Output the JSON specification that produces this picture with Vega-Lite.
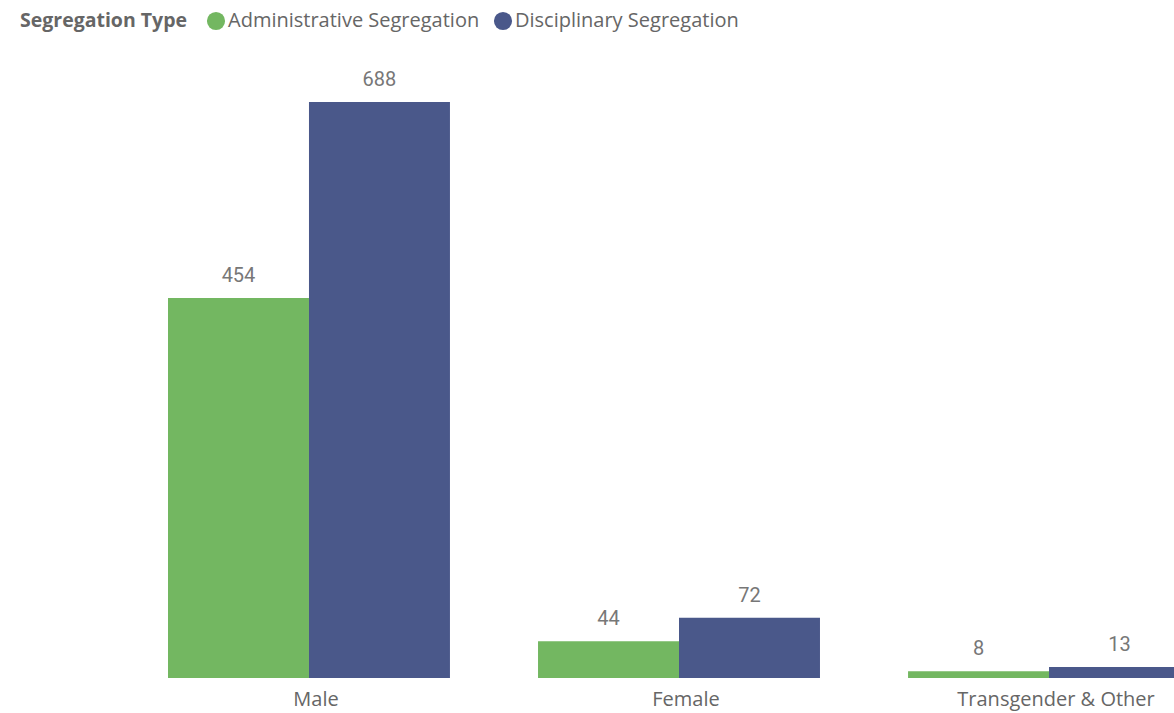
{
  "$schema": "https://vega.github.io/schema/vega-lite/v6.json",
  "autosize": {"type": "none"},
  "width": 1174,
  "height": 638,
  "padding": {"left": 0, "top": 40, "right": 0, "bottom": 35},
  "background": "white",
  "config": {"view": {"stroke": null}},
  "data": {"values": [
    {"gender": "Male", "type": "Administrative Segregation", "count": 454},
    {"gender": "Male", "type": "Disciplinary Segregation", "count": 688},
    {"gender": "Female", "type": "Administrative Segregation", "count": 44},
    {"gender": "Female", "type": "Disciplinary Segregation", "count": 72},
    {"gender": "Transgender & Other", "type": "Administrative Segregation", "count": 8},
    {"gender": "Transgender & Other", "type": "Disciplinary Segregation", "count": 13}
  ]},
  "encoding": {
    "x": {"field": "gender", "type": "nominal", "sort": ["Male", "Female", "Transgender & Other"],
      "scale": {"range": [168, 1190], "paddingInner": 0.238, "paddingOuter": 0},
      "axis": {"title": null, "domain": false, "ticks": false, "labelAngle": 0, "labelFont": "Open Sans", "labelFontSize": 20, "labelColor": "#666666", "labelPadding": 11, "labelOffset": 7, "labelOverlap": false, "labelBound": false, "labelLimit": 0}},
    "xOffset": {"field": "type", "type": "nominal", "scale": {"paddingInner": 0, "paddingOuter": 0}},
    "y": {"field": "count", "type": "quantitative", "scale": {"domain": [0, 762], "nice": false}, "axis": null}
  },
  "layer": [
    {"mark": {"type": "bar", "clip": true},
     "encoding": {"color": {"field": "type", "type": "nominal",
       "scale": {"domain": ["Administrative Segregation", "Disciplinary Segregation"], "range": ["#73B761", "#4A588A"]},
       "legend": {"orient": "none", "legendX": 20, "legendY": -29, "direction": "horizontal", "title": "Segregation Type", "titleOrient": "left", "titleFont": "Open Sans", "titleFontSize": 19.5, "titleFontWeight": "bold", "titleColor": "#666666", "titlePadding": 18, "labelFont": "Open Sans", "labelFontSize": 20, "labelColor": "#666666", "labelLimit": 0, "symbolType": "circle", "symbolSize": 330, "symbolStrokeWidth": 0, "symbolOpacity": 1, "labelOffset": 2, "columnPadding": 13}}}},
    {"mark": {"type": "text", "baseline": "alphabetic", "dy": -16, "font": "Roboto", "fontSize": 20, "color": "#777777", "clip": false},
     "encoding": {"text": {"field": "count", "type": "quantitative"}}}
  ]
}
